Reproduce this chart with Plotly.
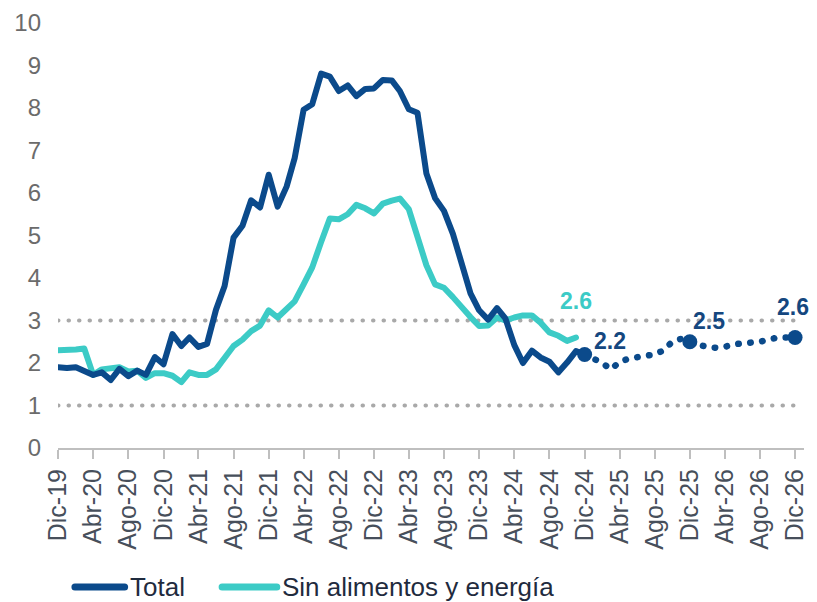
import pandas as pd
import plotly.graph_objects as go

# Inflación anual (%), mensual desde Dic-19
TOTAL = [
    1.90, 1.88, 1.90, 1.82, 1.72, 1.78, 1.60, 1.86, 1.69, 1.82, 1.72, 2.14,
    1.97, 2.68, 2.40, 2.60, 2.38, 2.45, 3.25, 3.81, 4.95, 5.23, 5.83, 5.66,
    6.43, 5.68, 6.15, 6.82, 7.96, 8.09, 8.81, 8.74, 8.40, 8.53, 8.28, 8.45,
    8.46, 8.66, 8.65, 8.40, 7.97, 7.89, 6.46, 5.88, 5.58, 5.04, 4.34, 3.64,
    3.24, 3.02, 3.29, 3.05, 2.42, 2.00, 2.29, 2.13, 2.03, 1.78, 2.01, 2.28,
    2.20,
]
CORE = [
    2.30, 2.30, 2.32, 2.34, 1.72, 1.85, 1.88, 1.90, 1.80, 1.82, 1.65, 1.76,
    1.76, 1.70, 1.55, 1.78, 1.72, 1.72, 1.85, 2.10, 2.40, 2.55, 2.75, 2.88,
    3.24, 3.07, 3.25, 3.45, 3.85, 4.25, 4.85, 5.40, 5.38, 5.50, 5.72, 5.64,
    5.52, 5.75, 5.82, 5.87, 5.62, 4.95, 4.30, 3.85, 3.77, 3.55, 3.30, 3.08,
    2.87, 2.88, 3.07, 3.00, 3.07, 3.12, 3.12, 2.95, 2.72, 2.64, 2.52, 2.60,
]
# Proyección de la inflación total, Dic-24 a Dic-26
FORECAST = [
    2.20, 2.12, 2.00, 1.85, 2.02, 2.10, 2.15, 2.17, 2.20, 2.30, 2.50, 2.57,
    2.50, 2.44, 2.37, 2.36, 2.38, 2.44, 2.48, 2.48, 2.50, 2.56, 2.60, 2.60,
    2.60,
]
HIGHLIGHT_DATES = ["2024-12-01", "2025-12-01", "2026-12-01"]
TICK_LABELS = [
    "Dic-19", "Abr-20", "Ago-20", "Dic-20", "Abr-21", "Ago-21", "Dic-21",
    "Abr-22", "Ago-22", "Dic-22", "Abr-23", "Ago-23", "Dic-23", "Abr-24",
    "Ago-24", "Dic-24", "Abr-25", "Ago-25", "Dic-25", "Abr-26", "Ago-26",
    "Dic-26",
]
TARGET_BAND = [1, 3]
SERIES_NAMES = ["Total", "Sin alimentos y energía"]

NAVY = "#0b4a8b"
TEAL = "#3ccbc6"
FONT = "Liberation Sans, Arial, sans-serif"

start = pd.Timestamp("2019-12-01")
hist_total_x = pd.date_range(start, periods=len(TOTAL), freq="MS")
hist_core_x = pd.date_range(start, periods=len(CORE), freq="MS")
fc_x = pd.date_range("2024-12-01", periods=len(FORECAST), freq="MS")
tick_x = pd.date_range(start, periods=len(TICK_LABELS), freq="4MS")
fc_series = pd.Series(FORECAST, index=fc_x)
hl_x = pd.to_datetime(HIGHLIGHT_DATES)
hl_y = [fc_series[d] for d in hl_x]

fig = go.Figure()

fig.add_trace(go.Scatter(
    x=hist_core_x, y=CORE, mode="lines", name=SERIES_NAMES[1],
    line=dict(color=TEAL, width=6), showlegend=False,
))
fig.add_trace(go.Scatter(
    x=hist_total_x, y=TOTAL, mode="lines", name=SERIES_NAMES[0],
    line=dict(color=NAVY, width=6), showlegend=False,
))
fig.add_trace(go.Scatter(
    x=fc_x, y=FORECAST, mode="lines", name="Proyección",
    line=dict(color=NAVY, width=6.5, dash="0.5px,11.5px"), showlegend=False,
))
fig.add_trace(go.Scatter(
    x=hl_x, y=hl_y, mode="markers", cliponaxis=False, showlegend=False,
    marker=dict(color=NAVY, size=15),
))

# Rango meta (líneas punteadas)
for level in TARGET_BAND:
    fig.add_shape(
        type="line", xref="x", yref="y",
        x0=tick_x[0], x1=tick_x[-1], y0=level, y1=level,
        line=dict(color="#a9a9a9", width=4, dash="0.5px,10px"), layer="below",
    )

# Etiquetas de valores
label_offsets = [(25, 14), (19, 21), (-2, 31)]
for d, v, (dx, dy) in zip(hl_x, hl_y, label_offsets):
    fig.add_annotation(
        x=d, y=v, text=f"<b>{v:.1f}</b>", showarrow=False,
        xshift=dx, yshift=dy,
        font=dict(family=FONT, size=23, color="#15477f"),
    )
fig.add_annotation(
    x=hist_core_x[-1], y=CORE[-1], text=f"<b>{CORE[-1]:.1f}</b>",
    showarrow=False, xshift=0, yshift=37,
    font=dict(family=FONT, size=23, color=TEAL),
)

# Leyenda
legend_items = [(0.0227, 0.0893, NAVY), (0.22, 0.2933, TEAL)]
legend_y = -0.327
for (x0, x1, color), name in zip(legend_items, SERIES_NAMES):
    fig.add_shape(
        type="line", xref="paper", yref="paper",
        x0=x0, x1=x1, y0=legend_y, y1=legend_y,
        line=dict(color=color, width=7),
    )
    fig.add_annotation(
        xref="paper", yref="paper", x=x1 + 0.004, y=legend_y,
        xanchor="left", yanchor="middle", text=name, showarrow=False,
        font=dict(family=FONT, size=26, color="#1f2b3e"),
    )

fig.update_layout(
    width=817, height=602, autosize=False,
    margin=dict(l=58, r=9, t=20, b=154),
    paper_bgcolor="white", plot_bgcolor="white",
    font=dict(family=FONT),
    showlegend=False,
)
fig.update_xaxes(
    type="date", range=[start, pd.Timestamp("2027-01-01")],
    tickvals=tick_x, ticktext=TICK_LABELS, tickangle=-90,
    tickfont=dict(family=FONT, size=25, color="#474f5b"),
    ticks="outside", ticklen=9, tickwidth=1.5, tickcolor="#bfbfbf",
    showline=True, linecolor="#bfbfbf", linewidth=2,
    showgrid=False, zeroline=False,
)
fig.update_yaxes(
    range=[0, 10], dtick=1, tick0=0,
    tickfont=dict(family=FONT, size=24, color="#6b6b6b"),
    ticks="", ticklabelstandoff=16,
    showgrid=False, zeroline=False, showline=False,
)

round_caps = """
var gd = document.getElementById('{plot_id}');
function roundCaps() {
  gd.querySelectorAll('.js-line, .shapelayer path').forEach(function (p) {
    p.style.strokeLinecap = 'round';
    p.style.strokeLinejoin = 'round';
  });
}
roundCaps();
gd.on('plotly_afterplot', roundCaps);
"""

fig.write_html("out.html", post_script=round_caps)
